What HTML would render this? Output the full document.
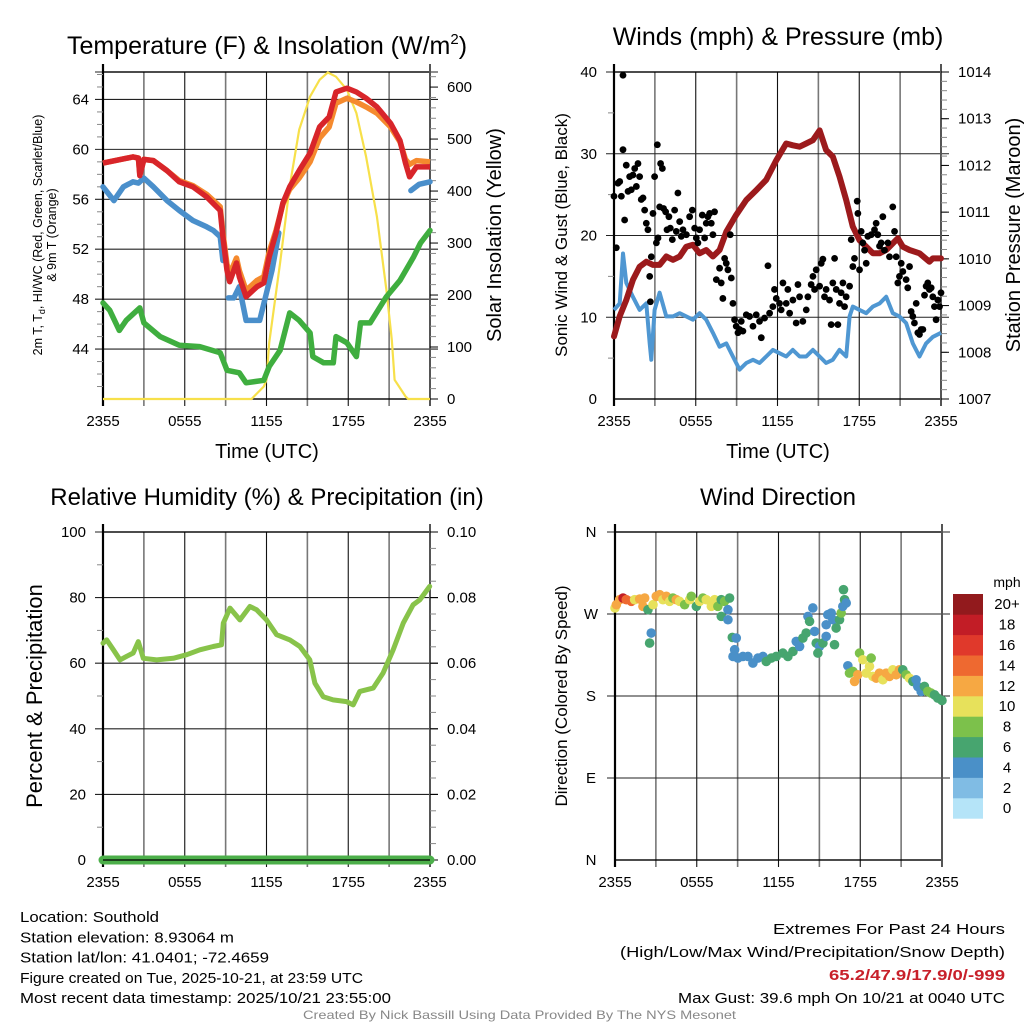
<!DOCTYPE html>
<html><head><meta charset="utf-8"><style>
html,body{margin:0;padding:0;background:#fff;}
svg{display:block;font-family:"Liberation Sans",sans-serif;}
</style></head><body>
<svg id="c" width="1024" height="1024" viewBox="0 0 1024 1024"></svg>
<script>
// ---------- DATA ----------
const tempHours=[0,2.2,2.6,2.7,3.0,3.7,4.7,5.6,6.6,7.6,8.6,8.8,9.1,9.3,9.8,10.0,10.5,11.3,11.8,12.2,12.7,13.2,13.7,14.4,15.2,15.9,16.6,17.1,17.9,18.6,19.3,20.1,21.1,21.8,22.2,22.5,23.0,24];
const tempRed=[58.9,59.4,59.3,57.9,59.2,59.1,58.3,57.4,57.0,56.2,55.1,53.0,50.3,49.4,50.9,49.8,48.2,49.0,49.3,51.4,53.3,55.7,57.0,58.3,59.7,61.8,62.6,64.6,64.9,64.6,64.1,63.4,62.1,60.7,58.9,57.8,58.6,58.6];
const tempOrange=[58.9,59.4,59.3,58.0,59.2,59.1,58.3,57.5,57.1,56.4,55.4,53.3,50.8,50.0,51.3,50.3,48.7,49.5,49.8,51.8,53.5,55.6,56.8,57.7,59.0,60.9,61.8,63.7,64.1,63.8,63.4,62.9,61.8,60.6,59.2,58.8,59.1,59.0];
const chillHours=[0,0.8,1.5,2.2,2.6,3.0,3.7,4.7,5.6,6.6,7.6,8.1,8.6,8.8,null,9.2,9.6,10.0,10.5,11.5,12.0,12.4,12.9,null,22.6,23.2,24];
const chillTemp=[57.0,55.9,57.0,57.4,57.3,57.7,57.0,55.9,55.1,54.3,53.8,53.5,53.0,51.1,null,48.1,48.1,49.0,46.3,46.3,48.5,50.3,53.3,null,56.7,57.2,57.4];
const dewHours=[0,0.5,1.2,1.7,2.7,3.0,4.2,5.6,7.1,8.6,9.1,10.0,10.5,11.8,12.2,13.0,13.7,14.4,15.2,15.4,16.2,16.9,17.1,17.9,18.6,18.9,19.6,20.8,21.8,22.8,23.3,24];
const dewTemp=[47.7,47.1,45.5,46.3,47.3,46.1,45.0,44.3,44.2,43.7,42.3,42.1,41.3,41.5,42.6,43.9,46.9,46.3,45.3,43.4,42.9,42.9,45.0,44.5,43.4,46.1,46.1,48.2,49.5,51.4,52.5,53.5];
const solarHours=[0,10.9,11.8,12.0,12.2,13.0,13.7,14.4,15.2,15.9,16.5,17.1,17.9,18.6,19.3,20.1,20.8,21.2,21.4,22.2,22.4,24];
const solarWm2=[0,0,24,37,108,262,409,518,582,614,628,620,595,550,467,351,210,114,37,5,0,0];
const presHours=[0,0.42,0.9,1.39,1.88,2.37,2.86,3.35,3.84,4.33,4.82,5.31,5.79,6.28,6.77,7.26,7.75,8.24,8.97,9.71,10.44,11.17,11.91,12.64,13.12,13.62,14.11,14.6,15.09,15.57,16.06,16.55,17.04,17.53,18.02,18.51,19.0,19.49,19.98,20.46,20.83,21.2,21.69,22.42,23.15,23.4,24];
const presMb=[1008.34,1008.77,1009.12,1009.55,1009.83,1009.94,1009.87,1009.87,1010.05,1009.98,1010.05,1010.26,1010.30,1010.12,1010.19,1010.05,1010.19,1010.58,1010.94,1011.26,1011.47,1011.69,1012.11,1012.47,1012.43,1012.40,1012.47,1012.54,1012.75,1012.33,1012.19,1011.76,1011.26,1010.69,1010.40,1010.26,1010.12,1010.12,1010.19,1010.33,1010.44,1010.26,1010.19,1010.12,1009.94,1010.01,1010.01];
const windHours=[0,0.42,0.66,0.9,1.39,1.88,2.37,2.62,2.74,2.98,3.35,3.84,4.33,4.82,5.31,5.79,6.28,6.77,7.26,7.75,8.24,8.73,9.22,9.71,10.2,10.68,11.17,11.66,12.15,12.64,13.12,13.62,14.11,14.6,15.09,15.57,16.06,16.55,17.04,17.29,17.53,18.02,18.51,19.0,19.49,19.98,20.46,20.95,21.44,21.93,22.42,22.91,23.4,24];
const windMph=[10.9,11.7,17.8,14.2,12.5,10.9,11.7,6.8,4.8,10.9,13.0,10.1,10.1,10.5,10.1,9.7,10.5,9.7,8.1,6.4,6.8,5.2,3.6,4.4,4.8,4.4,5.2,6.0,5.6,5.2,6.0,5.2,5.2,6.0,5.2,4.4,4.8,6.0,5.2,10.1,11.3,10.9,10.5,11.3,11.7,12.5,10.5,10.1,9.3,6.8,5.2,6.8,7.6,8.1];
const gustHours=[0,0.17,0.29,0.42,0.54,0.66,0.66,0.78,0.9,1.03,1.15,1.27,1.39,1.52,1.64,1.76,1.88,2.0,2.13,2.25,2.37,2.49,2.62,2.67,2.74,2.86,2.98,3.11,3.18,3.23,3.35,3.42,3.55,3.64,3.79,3.89,4.03,4.13,4.28,4.45,4.57,4.69,4.82,4.94,5.06,5.31,5.55,5.75,5.92,6.04,6.16,6.28,6.48,6.65,6.77,6.89,7.02,7.14,7.26,7.38,7.51,7.75,7.87,7.99,8.12,8.24,8.36,8.53,8.61,8.73,8.85,8.97,9.1,9.22,9.34,9.46,9.71,9.95,10.2,10.44,10.68,10.81,11.05,11.3,11.42,11.66,11.78,11.91,12.15,12.27,12.4,12.64,12.76,12.89,13.13,13.37,13.5,13.62,13.86,14.11,14.23,14.47,14.6,14.72,14.84,15.09,15.21,15.33,15.45,15.57,15.82,15.94,16.06,16.19,16.31,16.43,16.55,16.67,16.8,16.92,17.04,17.29,17.41,17.53,17.65,17.85,17.9,18.02,18.14,18.26,18.39,18.51,18.63,18.88,19.12,19.24,19.36,19.49,19.61,19.73,19.85,20.1,20.22,20.46,20.59,20.71,20.83,20.95,21.08,21.2,21.44,21.56,21.69,21.81,21.93,22.05,22.18,22.3,22.42,22.54,22.67,22.79,22.91,23.03,23.15,23.28,23.4,23.52,23.64,23.77,23.89,24.0];
const gustMph=[24.8,18.5,26.4,26.6,24.8,39.6,30.5,21.9,28.6,25.4,27.2,25.6,27.4,28.2,26.0,28.8,27.2,24.4,24.6,23.1,21.5,20.7,15.0,11.9,17.4,22.7,27.2,19.1,31.1,19.7,23.5,28.8,28.2,23.3,22.9,20.7,22.3,20.9,19.5,23.1,20.5,25.2,21.7,19.9,20.7,20.1,22.3,23.1,20.9,19.7,19.1,20.7,22.5,19.7,21.5,22.3,22.7,21.5,20.1,22.9,14.6,16.0,14.2,12.3,17.2,16.6,15.8,20.1,14.8,11.7,9.7,8.9,8.1,8.5,9.5,8.3,10.3,10.1,8.9,10.3,9.5,7.5,9.9,16.3,10.5,11.3,13.4,12.3,11.7,10.9,14.2,11.7,13.4,10.5,12.1,9.3,14.0,12.5,9.5,10.9,12.5,14.0,15.0,13.4,15.8,13.8,16.6,17.1,12.5,13.4,12.1,9.1,14.2,17.2,13.4,9.1,11.7,13.0,14.2,11.3,12.5,13.8,19.5,16.2,17.2,24.2,22.7,15.8,20.5,19.1,18.2,16.6,19.9,20.1,20.7,21.5,20.1,18.7,19.1,22.3,18.2,19.1,17.4,23.5,20.5,17.4,14.2,15.0,16.6,15.6,14.6,13.6,16.2,10.7,10.1,9.3,11.7,8.1,7.9,8.5,8.5,12.7,13.8,14.2,13.4,13.6,12.5,11.3,9.7,12.1,11.3,13.0];
const rhHours=[0,0.27,0.76,1.25,1.74,2.22,2.59,2.96,3.94,5.16,6.14,7.11,8.09,8.70,8.83,9.32,10.05,10.78,11.27,12.0,12.74,13.72,14.45,15.18,15.55,16.16,16.89,17.87,18.36,18.85,19.83,20.56,21.3,22.03,22.76,23.25,23.98];
const rhPct=[66.1,67.1,64.1,61.0,62.1,63.1,66.6,61.5,61.0,61.5,62.6,64.1,65.1,65.6,72.2,76.8,73.2,77.3,76.3,73.2,68.7,67.1,65.1,61.0,53.9,49.8,48.8,48.3,47.3,51.4,52.4,57.0,64.1,72.2,77.8,79.3,83.4];
const precipHours=[0,24];
const precipIn=[0,0];
const dirHours=[0,0.1,0.34,0.59,0.83,1.2,1.44,1.81,2.05,2.18,2.42,2.66,2.54,2.79,3.03,3.28,3.52,3.77,4.01,4.25,4.5,4.74,5.11,5.48,5.6,5.97,6.21,6.45,6.7,7.07,7.31,7.55,7.8,8.04,8.29,8.41,7.8,8.29,8.61,8.9,8.78,8.66,9.02,9.39,9.76,10.12,10.49,10.86,11.1,11.47,11.83,12.32,12.69,13.06,13.3,13.55,13.79,14.03,14.16,14.52,14.28,14.65,14.77,15.01,14.89,15.26,15.5,15.62,15.87,15.99,16.23,16.48,16.6,16.72,16.85,16.97,16.77,16.11,15.5,17.09,17.21,17.46,17.58,17.82,17.95,18.19,18.44,18.68,18.8,18.92,19.17,19.41,19.66,19.9,20.15,20.39,20.64,20.88,21.12,21.37,21.61,21.86,22.1,22.22,22.47,22.71,22.96,23.2,23.45,23.69,24.0];
const dirDeg=[276.6,280.2,285.7,287.5,285.7,283.9,285.7,286.4,278.4,287.5,274.7,249.1,238.1,280.2,289.4,291.2,285.7,289.4,283.9,287.5,285.7,283.9,280.2,285.7,289.4,278.4,283.9,287.5,285.7,278.4,285.7,278.4,285.7,283.9,274.7,287.5,267.4,263.7,244.3,243.6,230.8,223.4,221.6,223.4,223.4,216.1,221.6,223.4,217.9,221.6,223.4,227.1,223.4,228.9,239.9,234.4,243.6,249.1,267.4,276.6,261.9,250.9,238.1,234.4,227.1,238.1,258.2,269.2,271.1,263.7,254.6,263.7,271.1,278.4,285.7,282.1,296.7,236.3,245.4,213.2,205.1,207.0,196.0,203.3,227.1,219.8,205.1,212.5,221.6,201.5,199.6,205.1,197.8,205.1,201.5,208.8,203.3,208.8,208.8,203.3,199.6,196.0,197.8,190.5,185.0,190.5,185.0,183.2,181.3,177.7,175.1];
const dirSpeed=[10,12,13,19,15,14,11,12,13,12,6,4,6,10,12,12,11,12,10,8,12,10,8,10,8,7,10,8,10,10,11,8,7,8,4,6,6,4,6,4,4,4,4,4,4,4,4,4,6,6,6,6,6,6,4,4,6,6,4,4,6,4,6,4,6,6,4,4,4,4,6,6,8,4,6,4,6,6,4,4,8,8,12,12,8,10,10,10,8,10,12,12,10,12,12,10,12,12,6,8,10,6,4,4,4,6,8,8,6,6,6];
const xTickLabels=["2355","0555","1155","1755","2355"];
const speedBinLabels=["0","2","4","6","8","10","12","14","16","18","20+"];
const speedColors=["#b5e4f8","#80bce4","#4a90c8","#47a56f","#7cc14b","#e7e15b","#f6a843","#ee6930","#e0392b","#c21d26","#921a1d"];

// ---------- HELPERS ----------
const NS="http://www.w3.org/2000/svg";
const svg=document.getElementById('c');
function el(tag,attrs,parent){const e=document.createElementNS(NS,tag);for(const k in attrs)e.setAttribute(k,attrs[k]);(parent||svg).appendChild(e);return e;}
function txt(s,attrs,parent){const e=el('text',attrs,parent);e.textContent=s;return e;}
function lin(a,b,c,d){return (v)=>c+(v-a)*(d-c)/(b-a);}
function pathFrom(xs,ys,X,Y){let d="",pen=false;for(let i=0;i<xs.length;i++){if(xs[i]===null||ys[i]===null){pen=false;continue;}d+=(pen?"L":"M")+X(xs[i]).toFixed(1)+","+Y(ys[i]).toFixed(1);pen=true;}return d;}

function frame(g,x0,x1,y0,y1,hLines,X){
  for(let h=3;h<24;h+=3){
    const l=el('line',{x1:X(h),x2:X(h),y1:y0,y2:y1+7,stroke:(h%6===0)?'#111':'#777','stroke-width':(h%6===0)?1.1:1.6},g);
    
    
  }
  hLines.forEach(y=>{
    const l=el('line',{x1:x0-8,x2:x1+8,y1:y,y2:y,stroke:'#222','stroke-width':1.1},g);
    
    
  });
  const r=el('rect',{x:x0,y:y0,width:x1-x0,height:y1-y0,fill:'none',stroke:'#000','stroke-width':1.4},g);
  
  
  el('line',{x1:x0,x2:x0,y1:y0-8,y2:y1+7,stroke:'#000','stroke-width':2.2},g);
  el('line',{x1:x1,x2:x1,y1:y0-8,y2:y1+7,stroke:'#555','stroke-width':2},g);
  xTickLabels.forEach((s,i)=>{
    const t=txt(s,{x:X(i*6),y:y1+27,'font-size':15,'text-anchor':'middle',fill:'#000'},g);
    
    
  });
}
function minorTicks(g,x,ys,dir){ys.forEach(y=>el('line',{x1:x,x2:x+dir*6,y1:y,y2:y,stroke:'#888','stroke-width':1},g));}

// ---------- PANEL 1 ----------
(function(){
  const x0=103,x1=430,y0=72,y1=399;
  const X=lin(0,24,x0,x1),Y=lin(40,66.2,y1,y0),YS=lin(0,629,y1,y0);
  const g=el('g',{});
  frame(g,x0,x1,y0,y1,[44,48,52,56,60,64].map(Y).concat([y0]),X);
  const mt=[];for(let v=41;v<=66;v++)if(v%4)mt.push(Y(v));minorTicks(g,x0,mt,-1);
  const mr=[];for(let v=20;v<=620;v+=20)if(v%100)mr.push(YS(v));minorTicks(g,x1,mr,1);
  [0,100,200,300,400,500,600].forEach(v=>{el('line',{x1:x1,x2:x1+8,y1:YS(v),y2:YS(v),stroke:'#000'},g);
    const t=txt(String(v),{x:x1+17,y:YS(v)+5,'font-size':15},g);});
  [44,48,52,56,60,64].forEach(v=>{const t=txt(String(v),{x:x0-14,y:Y(v)+5,'font-size':15,'text-anchor':'end'},g);});
  const ys=el('path',{d:pathFrom(solarHours,solarWm2,X,YS),fill:'none',stroke:'#f7e04a','stroke-width':2.2},g);
  const gd=el('path',{d:pathFrom(dewHours,dewTemp,X,Y),fill:'none',stroke:'#3fae3f','stroke-width':5.5,'stroke-linejoin':'round','stroke-linecap':'round'},g);
  const bl=el('path',{d:pathFrom(chillHours,chillTemp,X,Y),fill:'none',stroke:'#4a8fcb','stroke-width':5.5,'stroke-linejoin':'round','stroke-linecap':'round'},g);
  const or=el('path',{d:pathFrom(tempHours,tempOrange,X,Y),fill:'none',stroke:'#f58a2e','stroke-width':5.5,'stroke-linejoin':'round'},g);
  const rd=el('path',{d:pathFrom(tempHours,tempRed,X,Y),fill:'none',stroke:'#d8252a','stroke-width':5.5,'stroke-linejoin':'round'},g);
  const ti=el('text',{x:267,y:54,'font-size':25,'text-anchor':'middle'},g);ti.innerHTML='Temperature (F) &amp; Insolation (W/m<tspan dy="-10" font-size="15">2</tspan><tspan dy="10">)</tspan>';
  const xt=txt('Time (UTC)',{x:267,y:458,'font-size':20,'text-anchor':'middle'},g);
  const la=el('text',{transform:'translate(42,235) rotate(-90)','font-size':12.5,'text-anchor':'middle'},g);la.innerHTML='2m T, T<tspan font-size="9" dy="3">d</tspan><tspan dy="-3">, HI/WC (Red, Green, Scarlet/Blue)</tspan>';
  const la2=txt('& 9m T (Orange)',{transform:'translate(56,235) rotate(-90)','font-size':12.5,'text-anchor':'middle'},g);
  const ra=txt('Solar Insolation (Yellow)',{transform:'translate(501,235) rotate(-90)','font-size':20,'text-anchor':'middle'},g);
})();

// ---------- PANEL 2 ----------
(function(){
  const x0=614,x1=941,y0=72,y1=399;
  const X=lin(0,24,x0,x1),Y=lin(0,40,y1,y0),YP=lin(1007,1014,y1,y0);
  const g=el('g',{});
  frame(g,x0,x1,y0,y1,[10,20,30,40].map(Y),X);
  minorTicks(g,x0,[5,15,25,35].map(Y),-1);
  const mr=[];for(let v=1007.2;v<1014;v+=0.2)mr.push(YP(v));minorTicks(g,x1,mr,1);
  [0,10,20,30,40].forEach(v=>{const t=txt(String(v),{x:x0-17,y:Y(v)+5,'font-size':15,'text-anchor':'end'},g);});
  [1007,1008,1009,1010,1011,1012,1013,1014].forEach(v=>{el('line',{x1:x1,x2:x1+8,y1:YP(v),y2:YP(v),stroke:'#000'},g);
    const t=txt(String(v),{x:x1+17,y:YP(v)+5,'font-size':15},g);});
  const wb=el('path',{d:pathFrom(windHours,windMph,X,Y),fill:'none',stroke:'#4f97d2','stroke-width':4,'stroke-linejoin':'round'},g);
  const pm=el('path',{d:pathFrom(presHours,presMb,X,YP),fill:'none',stroke:'#9c1a1c','stroke-width':6,'stroke-linejoin':'round','stroke-linecap':'round'},g);
  gustHours.forEach((h,i)=>{const c=el('circle',{cx:X(h),cy:Y(gustMph[i]),r:3.4,fill:'#000'},g);
    
    });
  const ti=txt('Winds (mph) & Pressure (mb)',{x:778,y:45,'font-size':25,'text-anchor':'middle'},g);
  const xt=txt('Time (UTC)',{x:778,y:458,'font-size':20,'text-anchor':'middle'},g);
  const la=txt('Sonic Wind & Gust (Blue, Black)',{transform:'translate(567,235) rotate(-90)','font-size':17,'text-anchor':'middle'},g);
  const ra=txt('Station Pressure (Maroon)',{transform:'translate(1020,235) rotate(-90)','font-size':20,'text-anchor':'middle'},g);
})();

// ---------- PANEL 3 ----------
(function(){
  const x0=103,x1=430,y0=532,y1=860;
  const X=lin(0,24,x0,x1),Y=lin(0,100,y1,y0),YR=lin(0,0.1,y1,y0);
  const g=el('g',{});
  frame(g,x0,x1,y0,y1,[20,40,60,80,100].map(Y),X);
  minorTicks(g,x0,[10,30,50,70,90].map(Y),-1);
  const mr=[];for(let v=5;v<100;v+=5)if(v%20)mr.push(Y(v));minorTicks(g,x1,mr,1);
  [0,20,40,60,80,100].forEach(v=>{const t=txt(String(v),{x:x0-17,y:Y(v)+5,'font-size':15,'text-anchor':'end'},g);});
  ["0.00","0.02","0.04","0.06","0.08","0.10"].forEach((s,i)=>{el('line',{x1:x1,x2:x1+8,y1:YR(i*0.02),y2:YR(i*0.02),stroke:'#000'},g);
    const t=txt(s,{x:x1+17,y:YR(i*0.02)+5,'font-size':15},g);});
  const rh=el('path',{d:pathFrom(rhHours,rhPct,X,Y),fill:'none',stroke:'#88c34a','stroke-width':5,'stroke-linejoin':'round','stroke-linecap':'round'},g);
  const pr=el('path',{d:pathFrom(precipHours,precipIn,X,YR),fill:'none',stroke:'#4caf4a','stroke-width':9,'stroke-linecap':'round'},g);
  el('line',{x1:x0,x2:x1,y1:y1,y2:y1,stroke:'#000','stroke-width':1.2},g);
  const ti=txt('Relative Humidity (%) & Precipitation (in)',{x:267,y:505,'font-size':24,'text-anchor':'middle'},g);
  const la=txt('Percent & Precipitation',{transform:'translate(42,696) rotate(-90)','font-size':22,'text-anchor':'middle'},g);
})();

// ---------- PANEL 4 ----------
(function(){
  const x0=615,x1=942,y0=532,y1=860;
  const X=lin(0,24,x0,x1),Y=lin(0,360,y1,y0);
  const g=el('g',{});
  frame(g,x0,x1,y0,y1,[90,180,270,360].map(Y),X);
  ["N","E","S","W","N"].forEach((s,i)=>{const t=txt(s,{x:x0-24,y:Y(i*90)+5,'font-size':15,'text-anchor':'middle'},g);});
  dirHours.forEach((h,i)=>{const b=Math.min(10,Math.floor(dirSpeed[i]/2));
    const c=el('circle',{cx:X(h),cy:Y(dirDeg[i]),r:4.8,fill:speedColors[b]},g);
    
    });
  const ti=txt('Wind Direction',{x:778,y:505,'font-size':24,'text-anchor':'middle'},g);
  const la=txt('Direction (Colored By Speed)',{transform:'translate(567,696) rotate(-90)','font-size':17,'text-anchor':'middle'},g);
  const cb=el('g',{},g);
  const segH=20.4,top=594;
  speedColors.forEach((c,i)=>{const y=top+(10-i)*segH;
    const r=el('rect',{x:953,y:y,width:30,height:segH+0.3,fill:c},cb);
    
    
    const t=txt(speedBinLabels[i],{x:1007,y:y+segH/2+5,'font-size':15,'text-anchor':'middle'},cb);
    
    });
  const u=txt('mph',{x:1007,y:587,'font-size':14,'text-anchor':'middle'},cb);
})();

// ---------- FOOTER ----------
(function(){
  const g=el('g',{});
  const left=[["Location: Southold",139],["Station elevation: 8.93064 m",214],["Station lat/lon: 41.0401; -72.4659",249],["Figure created on Tue, 2025-10-21, at 23:59 UTC",343],["Most recent data timestamp: 2025/10/21 23:55:00",371]];
  left.forEach((a,i)=>{const t=txt(a[0],{x:20,y:922+i*20.3,'font-size':15,textLength:a[1],lengthAdjust:'spacingAndGlyphs'},g);});
  const right=[["Extremes For Past 24 Hours",232,934,'#000','normal'],["(High/Low/Max Wind/Precipitation/Snow Depth)",385,957,'#000','normal'],["65.2/47.9/17.9/0/-999",176,980,'#c8202a','bold'],["Max Gust: 39.6 mph On 10/21 at 0040 UTC",327,1003,'#000','normal']];
  right.forEach(a=>{const t=txt(a[0],{x:1005-a[1],y:a[2],'font-size':15,fill:a[3],'font-weight':a[4],textLength:a[1],lengthAdjust:'spacingAndGlyphs'},g);});
  const c=txt('Created By Nick Bassill Using Data Provided By The NYS Mesonet',{x:303,y:1019,'font-size':12,fill:'#888',textLength:433,lengthAdjust:'spacingAndGlyphs'},g);
})();
</script>
</body></html>
